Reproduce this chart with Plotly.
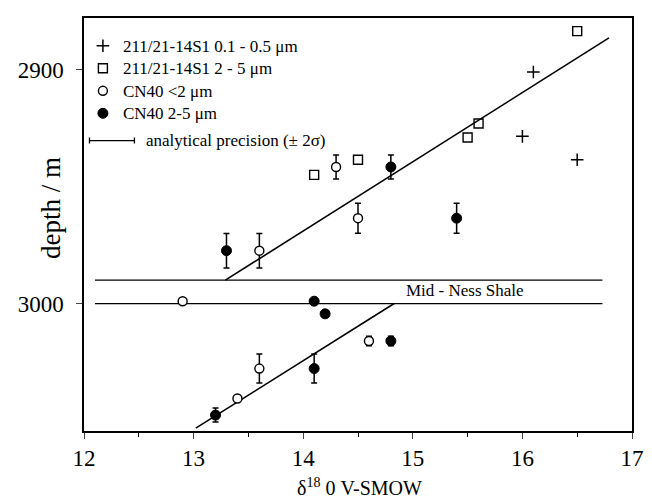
import plotly.graph_objects as go

FONT = "Liberation Serif"

# ---- data ----
plus_x = [16.1, 16.0, 16.5]
plus_y = [2901, 2928.5, 2938.5]

sq_x = [16.5, 15.6, 15.5, 14.5, 14.1]
sq_y = [2883.5, 2923, 2929, 2938.5, 2945]

open_x = [14.3, 14.5, 13.6, 12.9, 14.6, 13.6, 13.4]
open_y = [2941.6, 2963.5, 2977.4, 2999, 3016, 3027.8, 3040.6]
open_err = [5.1, 6.4, 7.4, None, 2.0, 6.2, None]

fill_x = [14.8, 15.4, 13.3, 14.1, 14.2, 14.8, 14.1, 13.2]
fill_y = [2941.6, 2963.5, 2977.4, 2999, 3004.4, 3016, 3027.8, 3047.7]
fill_err = [5.1, 6.4, 7.4, None, None, 2.0, 6.2, 3.0]

fit_upper_x = [13.29, 16.79]
fit_upper_y = [2990.0, 2886.4]
fit_lower_x = [13.02, 14.83]
fit_lower_y = [3053.3, 3000.0]

shale_x = [12.1, 16.73]
shale_top = 2990.0
shale_base = 3000.0

precision_center_x = 12.255
precision_y = 2930.3
precision_2sigma = 0.205

x_ticks = [12, 13, 14, 15, 16, 17]
y_ticks = [2900, 3000]

series_names = ["211/21-14S1 0.1 - 0.5 μm", "211/21-14S1 2 - 5 μm",
                "CN40 &lt;2 μm", "CN40 2-5 μm"]


def leg(name):
    return '<span style="font-size:17px">' + name + "</span>"


fig = go.Figure()

line_style = dict(color="black", width=1.6)

fig.add_trace(go.Scatter(x=fit_upper_x, y=fit_upper_y, mode="lines", line=line_style,
                         showlegend=False, hoverinfo="skip"))
fig.add_trace(go.Scatter(x=fit_lower_x, y=fit_lower_y, mode="lines", line=line_style,
                         showlegend=False, hoverinfo="skip"))
for yv in (shale_top, shale_base):
    fig.add_trace(go.Scatter(x=shale_x, y=[yv, yv], mode="lines",
                             line=dict(color="black", width=1.3),
                             showlegend=False, hoverinfo="skip"))

fig.add_trace(go.Scatter(
    x=plus_x, y=plus_y, mode="markers", name=leg(series_names[0]),
    marker=dict(symbol="cross-thin-open", size=9, color="black",
                line=dict(color="black", width=1.5))))
fig.add_trace(go.Scatter(
    x=sq_x, y=sq_y, mode="markers", name=leg(series_names[1]),
    marker=dict(symbol="square-open", size=9, color="black",
                line=dict(color="black", width=1.4))))
fig.add_trace(go.Scatter(
    x=open_x, y=open_y, mode="markers", name=leg(series_names[2]),
    marker=dict(symbol="circle", size=9, color="white",
                line=dict(color="black", width=1.4)),
    error_y=dict(type="data", array=open_err, symmetric=True, color="black",
                 thickness=1.5, width=3)))
fig.add_trace(go.Scatter(
    x=fill_x, y=fill_y, mode="markers", name=leg(series_names[3]),
    marker=dict(symbol="circle", size=10, color="black",
                line=dict(color="black", width=1)),
    error_y=dict(type="data", array=fill_err, symmetric=True, color="black",
                 thickness=1.5, width=3)))

# analytical precision bar (legend element)
fig.add_trace(go.Scatter(
    x=[precision_center_x], y=[precision_y], mode="markers",
    marker=dict(size=1, color="rgba(0,0,0,0)"),
    error_x=dict(type="data", array=[precision_2sigma], symmetric=True,
                 color="black", thickness=1.3, width=3),
    showlegend=False, hoverinfo="skip"))

fig.add_annotation(x=precision_center_x + precision_2sigma, y=precision_y,
                   xref="x", yref="y", xanchor="left", yanchor="middle",
                   xshift=10, showarrow=False,
                   text="analytical precision (± 2σ)",
                   font=dict(family=FONT, size=17, color="black"))

fig.add_annotation(x=15.48, y=(shale_top + shale_base) / 2, xref="x", yref="y",
                   showarrow=False, text="Mid - Ness Shale", yshift=1,
                   font=dict(family=FONT, size=17, color="black"))

# axis titles
fig.add_annotation(x=-0.06, y=0.54, xref="paper", yref="paper",
                   textangle=-90, showarrow=False, text="depth / m",
                   xanchor="center", yanchor="middle",
                   font=dict(family=FONT, size=27, color="black"))
fig.add_annotation(x=0.503, y=-0.135, xref="paper", yref="paper",
                   showarrow=False, text="δ<sup>18</sup> 0 V-SMOW",
                   xanchor="center", yanchor="middle",
                   font=dict(family=FONT, size=20, color="black"))

fig.update_layout(
    width=644, height=490,
    margin=dict(l=76, r=15, t=8, b=67),
    paper_bgcolor="white", plot_bgcolor="white",
    font=dict(family=FONT, color="black"),
    legend=dict(x=-0.002, y=0.972, xanchor="left", yanchor="top",
                bgcolor="rgba(0,0,0,0)", font=dict(family=FONT, size=15),
                itemclick=False),
    xaxis=dict(range=[12, 17], tickvals=x_ticks, ticks="outside", ticklen=6,
               tickwidth=1.3, showline=True, linecolor="black", linewidth=1.5,
               mirror=True, showgrid=False, zeroline=False,
               tickfont=dict(family=FONT, size=23),
               minor=dict(dtick=0.5, ticks="outside", ticklen=4, tickwidth=1.2,
                          tickcolor="black")),
    yaxis=dict(range=[3054.5, 2877.9], tickvals=y_ticks, ticks="outside",
               ticklen=6, tickwidth=1.3, showline=True, linecolor="black",
               linewidth=1.5, mirror=True, showgrid=False, zeroline=False,
               ticklabelstandoff=8,
               tickfont=dict(family=FONT, size=23)),
)

fig.write_html("out.html")
